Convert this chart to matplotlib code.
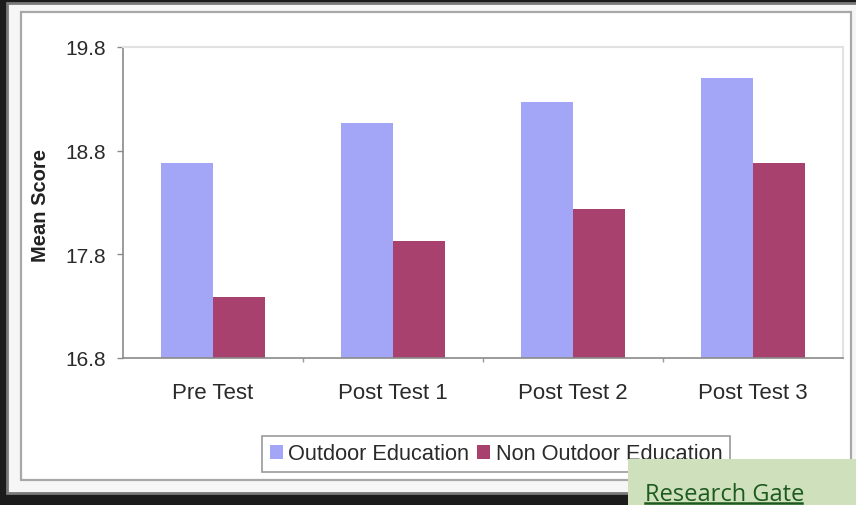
import matplotlib
matplotlib.use("Agg")
import matplotlib.pyplot as plt
from matplotlib.patches import Rectangle
from matplotlib.lines import Line2D
import numpy as np

categories = ["Pre Test", "Post Test 1", "Post Test 2", "Post Test 3"]
outdoor = [18.68, 19.07, 19.27, 19.50]
non_outdoor = [17.39, 17.93, 18.24, 18.68]
series_names = ["Outdoor Education", "Non Outdoor Education"]
yticks = [16.8, 17.8, 18.8, 19.8]

W, H = 856, 506
plt.rcParams['font.family'] = ['Liberation Sans', 'DejaVu Sans']
fig = plt.figure(figsize=(W / 100, H / 100), dpi=100)
fig.patch.set_facecolor("#1b1b1b")

def px_rect(x0, y0, x1, y1, **kw):
    r = Rectangle((x0 / W, 1 - y1 / H), (x1 - x0) / W, (y1 - y0) / H,
                  transform=fig.transFigure, **kw)
    fig.add_artist(r)
    return r

# outer frame and chart area
px_rect(7, 4, 870, 494, facecolor="#f6f6f6", edgecolor="#7a7a7a", lw=2.0, zorder=0)
px_rect(21, 13, 851, 481, facecolor="white", edgecolor="#a8a8a8", lw=1.6, zorder=0)

ax = fig.add_axes([123 / W, 1 - 359 / H, (843 - 123) / W, (359 - 48) / H])
ax.set_facecolor("white")

x = np.arange(len(categories))
bw = 0.29
ax.bar(x - bw / 2, outdoor, width=bw, color="#a3a6f7",
       label=series_names[0], zorder=2)
ax.bar(x + bw / 2, non_outdoor, width=bw, color="#a8416d",
       label=series_names[1], zorder=2)

ax.set_ylim(16.8, 19.8)
ax.set_xlim(-0.5, len(categories) - 0.5)
ax.set_yticks(yticks)
ax.set_yticklabels([f"{v:.1f}" for v in yticks])
ax.set_xticks(x)
ax.set_xticklabels(categories)
ax.set_xticks(np.arange(0.5, len(categories) - 0.5, 1), minor=True)

ax.tick_params(axis="y", direction="out", length=4, width=1, color="#8a8a8a",
               pad=8, labelsize=15, labelcolor="#2a2a2a")
ax.tick_params(axis="x", which="major", length=0, pad=17, labelsize=16,
               labelcolor="#2a2a2a")
ax.tick_params(axis="x", which="minor", direction="out", length=3, width=1,
               color="#9a9a9a")

for side in ["left", "bottom"]:
    ax.spines[side].set_color("#8a8a8a")
    ax.spines[side].set_linewidth(1.2)
for side in ["top", "right"]:
    ax.spines[side].set_color("#e2e2e2")
    ax.spines[side].set_linewidth(1.5)

fig.text(40 / W, 1 - 206 / H, "Mean Score", rotation=90, ha="center",
         va="center", fontsize=14.5, fontweight="bold", color="#222222")

leg = fig.legend(loc="center", bbox_to_anchor=(496 / W, 1 - 455 / H), ncol=2,
                 fontsize=15.7, handlelength=0.6, handleheight=0.6,
                 handletextpad=0.25, columnspacing=0.35, borderpad=0.35,
                 fancybox=False, framealpha=1, edgecolor="#9a9a9a")
leg.set_zorder(4)
for t in leg.get_texts():
    t.set_color("#2a2a2a")
leg.get_frame().set_linewidth(1.2)

# watermark box
px_rect(628, 460, 870, 520, facecolor="#cfe0bd", edgecolor="none", zorder=10)
fig.text(645 / W, 1 - 501 / H, "Research Gate", fontsize=17,
         family=["Open Sans", "DejaVu Sans"], color="#1d5a1d",
         ha="left", va="baseline", zorder=11)
fig.add_artist(Line2D([645 / W, 802 / W], [1 - 504 / H, 1 - 504 / H],
                      transform=fig.transFigure, color="#1d5a1d", lw=1.8,
                      zorder=11))

fig.savefig("out.png", dpi=100, facecolor=fig.get_facecolor())
